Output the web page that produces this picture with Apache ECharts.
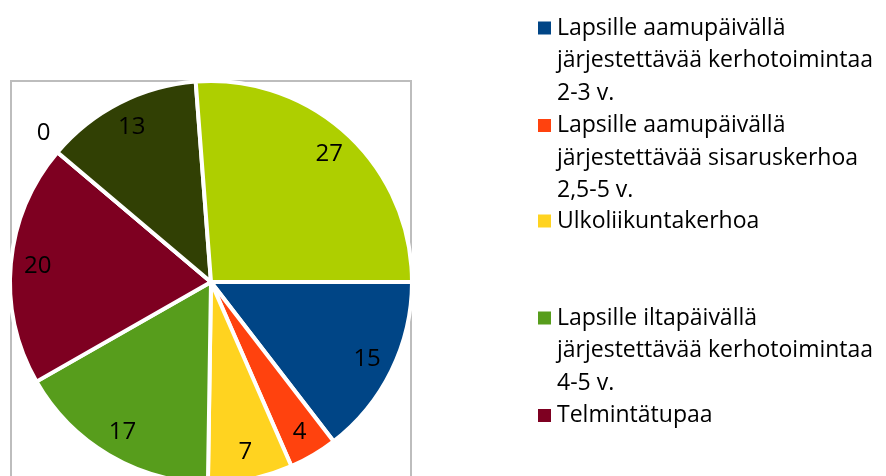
<!DOCTYPE html>
<html>
<head>
<meta charset="utf-8">
<script src="https://cdn.jsdelivr.net/npm/echarts@6/dist/echarts.min.js"></script>
<style>
html, body { margin: 0; padding: 0; background: #fff; }
#chart { width: 886px; height: 476px; }
</style>
</head>
<body>
<div id="chart"></div>
<script>
// slices clockwise from 3 o'clock, same order as the legend
const categories = [
  'Lapsille aamupäivällä järjestettävää kerhotoimintaa 2-3 v.',
  'Lapsille aamupäivällä järjestettävää sisaruskerhoa 2,5-5 v.',
  'Ulkoliikuntakerhoa',
  'Lapsille iltapäivällä järjestettävää kerhotoimintaa 4-5 v.',
  'Telmintätupaa',
  '(6)',
  '(7)',
  '(8)'
];
const values = [15, 4, 7, 17, 20, 0, 13, 27];
const colors = ['#004586', '#ff420e', '#ffd320', '#579d1c', '#7e0021', '#83caff', '#314004', '#aecf00'];

// legend text wrapped like in the picture (only first five are visible)
const legendLines = [
  ['Lapsille aamupäivällä', 'järjestettävää kerhotoimintaa', '2-3 v.'],
  ['Lapsille aamupäivällä', 'järjestettävää sisaruskerhoa', '2,5-5 v.'],
  ['Ulkoliikuntakerhoa'],
  ['Lapsille iltapäivällä', 'järjestettävää kerhotoimintaa', '4-5 v.'],
  ['Telmintätupaa']
];
const legendFirstLineY = [27, 124.5, 220, 317, 414.5];

const FONT = '"Open Sans"';
const LINE = 32.5;

let myChart = echarts.init(document.getElementById('chart'));

// one legend per entry; the icon box is as tall as the text and the square
// sits at its top, so the marker lines up with the first text line
let legends = legendLines.map(function (lines, i) {
  let h = lines.length * LINE;
  return {
    data: [categories[i]],
    left: 536,
    top: legendFirstLineY[i] - LINE / 2,
    padding: 0,
    itemWidth: 15,
    itemHeight: h,
    icon: 'path://M0,0M15,' + h + 'M0,' + (LINE / 2 - 7.5) + 'h15v15h-15z',
    selectedMode: false,
    formatter: function () { return lines.join('\n'); },
    textStyle: {
      fontFamily: FONT,
      fontSize: 23,
      color: '#000',
      lineHeight: LINE
    }
  };
});

let pieData = values.map(function (v, i) {
  return { name: categories[i], value: v, itemStyle: { color: colors[i] } };
});

let labelData = values.map(function (v, i) {
  let d = { name: categories[i], value: v };
  if (v === 0) {
    // empty slice: label sits just outside the rim
    d.label = { position: 'outside', distanceToLabelLine: -16 };
    d.labelLine = { show: false, length: 31, length2: 0 };
  }
  return d;
});

let option = {
  animation: false,
  legend: legends,
  graphic: [{
    type: 'rect',
    z: -1,
    shape: { x: 11, y: 81, width: 400, height: 420 },
    style: { fill: '#fff', stroke: '#bdbdbd', lineWidth: 2 }
  }],
  series: [
    {
      name: 'slices',
      type: 'pie',
      center: [211, 282],
      radius: 201,
      startAngle: 0,
      clockwise: true,
      silent: true,
      itemStyle: { borderColor: '#fff', borderWidth: 4 },
      label: { show: false },
      labelLine: { show: false },
      data: pieData
    },
    {
      // transparent ring only to place the value labels near the rim
      name: 'labels',
      type: 'pie',
      center: [211, 282],
      radius: [142, 200],
      startAngle: 0,
      clockwise: true,
      silent: true,
      avoidLabelOverlap: false,
      itemStyle: { color: 'transparent', borderWidth: 0 },
      label: {
        show: true,
        position: 'inside',
        formatter: '{c}',
        fontFamily: FONT,
        fontSize: 24,
        padding: [5, 0, 0, 0],
        color: '#000'
      },
      labelLine: { show: false },
      data: labelData
    }
  ]
};

myChart.setOption(option, true);
</script>
</body>
</html>
